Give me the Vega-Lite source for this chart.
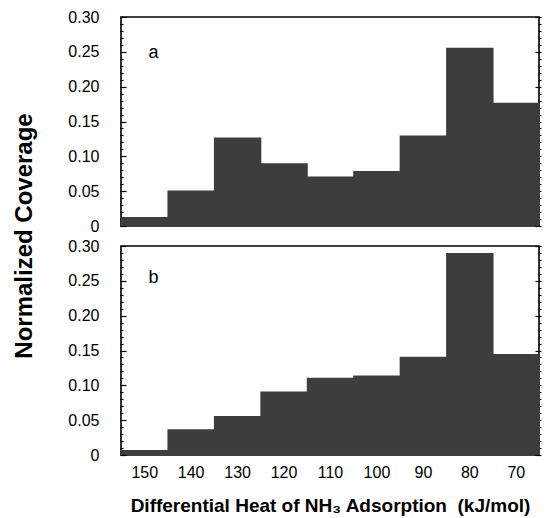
{
  "$schema": "https://vega.github.io/schema/vega-lite/v6.json",
  "padding": {"left": 12, "top": 9, "right": 6, "bottom": 5},
  "data": {"values": [
    {"panel": "a", "kind": "bar", "heat_from": 155, "heat_to": 145, "coverage": 0.013},
    {"panel": "a", "kind": "bar", "heat_from": 145, "heat_to": 135, "coverage": 0.051},
    {"panel": "a", "kind": "bar", "heat_from": 135, "heat_to": 125, "coverage": 0.127},
    {"panel": "a", "kind": "bar", "heat_from": 125, "heat_to": 115, "coverage": 0.090},
    {"panel": "a", "kind": "bar", "heat_from": 115, "heat_to": 105, "coverage": 0.071},
    {"panel": "a", "kind": "bar", "heat_from": 105, "heat_to": 95, "coverage": 0.079},
    {"panel": "a", "kind": "bar", "heat_from": 95, "heat_to": 85, "coverage": 0.130},
    {"panel": "a", "kind": "bar", "heat_from": 85, "heat_to": 75, "coverage": 0.256},
    {"panel": "a", "kind": "bar", "heat_from": 75, "heat_to": 65, "coverage": 0.177},
    {"panel": "b", "kind": "bar", "heat_from": 155, "heat_to": 145, "coverage": 0.007},
    {"panel": "b", "kind": "bar", "heat_from": 145, "heat_to": 135, "coverage": 0.037},
    {"panel": "b", "kind": "bar", "heat_from": 135, "heat_to": 125, "coverage": 0.056},
    {"panel": "b", "kind": "bar", "heat_from": 125, "heat_to": 115, "coverage": 0.091},
    {"panel": "b", "kind": "bar", "heat_from": 115, "heat_to": 105, "coverage": 0.111},
    {"panel": "b", "kind": "bar", "heat_from": 105, "heat_to": 95, "coverage": 0.114},
    {"panel": "b", "kind": "bar", "heat_from": 95, "heat_to": 85, "coverage": 0.141},
    {"panel": "b", "kind": "bar", "heat_from": 85, "heat_to": 75, "coverage": 0.290},
    {"panel": "b", "kind": "bar", "heat_from": 75, "heat_to": 65, "coverage": 0.145},
    {"panel": "a", "kind": "label", "heat_from": 148, "coverage": 0.249, "label": "a"},
    {"panel": "b", "kind": "label", "heat_from": 148, "coverage": 0.254, "label": "b"}
  ]},
  "facet": {"row": {"field": "panel", "type": "nominal",
    "header": {"labels": false, "title": "Normalized Coverage", "titleFontSize": 24, "titleFontWeight": "bold", "titleColor": "black", "titlePadding": 20}}},
  "spacing": 18,
  "spec": {
    "width": 418,
    "height": 209,
    "layer": [
      {
        "transform": [{"filter": "datum.kind === 'bar'"}],
        "mark": {"type": "bar", "color": "#3d3d3d"},
        "encoding": {
          "x": {"field": "heat_from", "type": "quantitative", "bin": "binned",
            "scale": {"domain": [65, 155], "reverse": true, "nice": false, "zero": false},
            "axis": {"values": [150, 140, 130, 120, 110, 100, 90, 80, 70], "ticks": false, "domain": false, "grid": false,
              "labelFontSize": 16, "labelPadding": 8, "labelColor": "black",
              "title": "Differential Heat of NH₃ Adsorption \u00a0(kJ/mol)", "titleFontSize": 19, "titleFontWeight": "bold", "titleColor": "black", "titlePadding": 16}},
          "x2": {"field": "heat_to"},
          "y": {"field": "coverage", "type": "quantitative",
            "scale": {"domain": [0, 0.3], "nice": false},
            "axis": {"values": [0,0.01,0.02,0.03,0.04,0.05,0.06,0.07,0.08,0.09,0.1,0.11,0.12,0.13,0.14,0.15,0.16,0.17,0.18,0.19,0.2,0.21,0.22,0.23,0.24,0.25,0.26,0.27,0.28,0.29,0.3],
              "labelExpr": "round(datum.value*100) % 5 == 0 ? (datum.value == 0 ? '0' : format(datum.value, '.2f')) : ''",
              "tickSize": {"condition": {"test": "round(datum.value*100) % 5 == 0", "value": -6}, "value": -3},
              "tickColor": "black", "tickWidth": 1.2, "domain": false, "grid": false,
              "labelFontSize": 16, "labelPadding": 27, "labelColor": "black",
              "title": null}}
        }
      },
      {
        "transform": [{"filter": "datum.kind === 'bar'"}],
        "mark": {"type": "bar", "opacity": 0},
        "encoding": {
          "x": {"field": "heat_from", "type": "quantitative", "bin": "binned"},
          "x2": {"field": "heat_to"},
          "y": {"field": "coverage", "type": "quantitative",
            "axis": {"orient": "right", "values": [0,0.01,0.02,0.03,0.04,0.05,0.06,0.07,0.08,0.09,0.1,0.11,0.12,0.13,0.14,0.15,0.16,0.17,0.18,0.19,0.2,0.21,0.22,0.23,0.24,0.25,0.26,0.27,0.28,0.29,0.3],
              "labels": false, "title": null, "domain": false, "grid": false,
              "tickSize": {"condition": {"test": "round(datum.value*100) % 5 == 0", "value": -6}, "value": -3},
              "tickColor": "black", "tickWidth": 1.2}}
        }
      },
      {
        "transform": [{"filter": "datum.kind === 'label'"}],
        "mark": {"type": "text", "fontSize": 18, "color": "black"},
        "encoding": {
          "x": {"field": "heat_from", "type": "quantitative"},
          "y": {"field": "coverage", "type": "quantitative", "axis": null},
          "text": {"field": "label"}
        }
      }
    ],
    "resolve": {"axis": {"y": "independent"}}
  },
  "config": {
    "font": "Liberation Sans",
    "view": {"stroke": "black", "strokeWidth": 1.6}
  }
}
